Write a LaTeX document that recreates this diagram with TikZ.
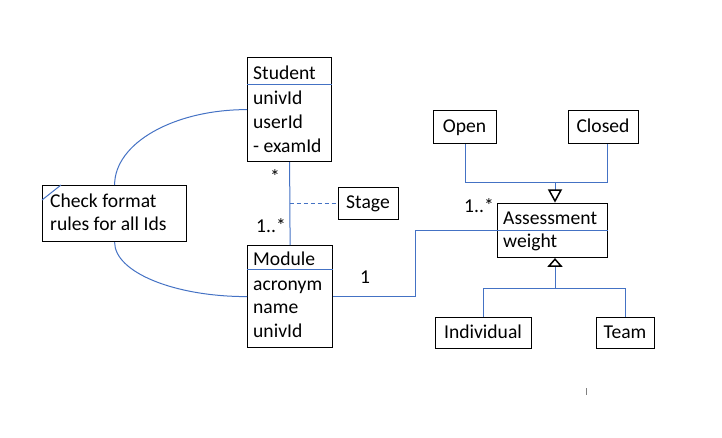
\documentclass[tikz,border=0pt]{standalone}
\usepackage{fontspec}
\setmainfont{Carlito}
\usetikzlibrary{calc}
\definecolor{lnblue}{RGB}{68,114,196}
\tikzset{
  box/.style={draw=black, line width=1.2pt, inner sep=0pt, anchor=north west},
  txt/.style={inner sep=0pt, anchor=base west, font=\fontsize{19.6}{23}\selectfont},
  ctxt/.style={inner sep=0pt, anchor=base, font=\fontsize{19.6}{23}\selectfont},
  conn/.style={draw=lnblue, line width=1pt},
  tri/.style={draw=black, line width=1.5pt, fill=white, line join=miter},
}
\begin{document}
\begin{tikzpicture}[x=1pt,y=-1pt]
\useasboundingbox (0,0) rectangle (722,437);
% Student
\node[box, minimum width=84pt, minimum height=104pt] (student) at (247,57) {};
\draw[conn] (student.north west |- 0,84) -- (student.north east |- 0,84);
\node[txt] (st1) at (253,79) {Student};
\node[txt] (st2) at (253,104) {univId};
\node[txt] (st3) at (253,128) {userId};
\node[txt] (st4) at (253,152) {- examId};
% Module
\node[box, minimum width=85pt, minimum height=102pt] (module) at (247,245) {};
\draw[conn] (module.north west |- 0,269) -- (module.north east |- 0,269);
\node[txt] (mo1) at (253,265) {Module};
\node[txt] (mo2) at (253,290) {acronym};
\node[txt] (mo3) at (253,313) {name};
\node[txt] (mo4) at (253,337) {univId};
% Check
\node[box, minimum width=144pt, minimum height=56pt] (check) at (42,185) {};
\node[txt] (ch1) at (50,207) {Check format};
\node[txt] (ch2) at (50,230) {rules for all Ids};
% Stage
\node[box, minimum width=60pt, minimum height=32pt] (stage) at (338,187) {};
\node[ctxt] (stt) at (368,208) {Stage};
% Open, Closed
\node[box, minimum width=63pt, minimum height=33pt] (open) at (433,110) {};
\node[ctxt] (opt) at (464.5,132) {Open};
\node[box, minimum width=70pt, minimum height=33pt] (closed) at (568,110) {};
\node[ctxt] (clt) at (603,132) {Closed};
% Assessment
\node[box, minimum width=110pt, minimum height=54pt] (assess) at (497,203) {};
\node[txt] (as1) at (503,224) {Assessment};
\node[txt] (as2) at (503,247) {weight};
% Individual, Team
\node[box, minimum width=96pt, minimum height=31pt] (indiv) at (435,317) {};
\node[ctxt] (int) at (483,338) {Individual};
\node[box, minimum width=58pt, minimum height=31pt] (team) at (596,317) {};
\node[ctxt] (tet) at (625,338) {Team};

% Student--Module association
\draw[conn] (student.south) -- (module.north);
\coordinate (stagejoin) at (stage.west -| student.south);
\draw[conn, dashed, dash pattern=on 4pt off 3pt] (stagejoin) -- (stage.west);
\node[ctxt] (m1) at (275,183) {*};
\node[txt] (m2) at (256,232) {1..*};

% curves to check
\draw[conn] (check.north) .. controls ($(check.north)+(0,-42)$) and ($(student.west)+(-73,0)$) .. (student.west);
\draw[conn] (check.south) .. controls ($(check.south)+(0,30)$) and ($(module.west)+(-73,0)$) .. (module.west);
\draw[conn] ($(check.north west)+(0,15)$) -- ($(check.north west)+(19,0)$);

% Module--Assessment
\coordinate (mabend) at ($(module.east)+(82,0)$);
\draw[conn] (module.east) -- (mabend) |- (assess.west) -- (assess.east);
\node[txt] (m3) at (360,283) {1};
\node[txt] (m4) at (464,212) {1..*};

% generalization Open/Closed
\coordinate (gtop) at (555,182);
\coordinate (gtri1) at (555,190);
\draw[conn] (open.south) |- (gtop);
\draw[conn] (closed.south -| 607,0) |- (gtop);
\draw[conn] (gtop) -- (gtri1);
\draw[tri] (549,190) -- (561,190) -- ($(assess.north -| gtop)+(0,-2)$) -- cycle;

% generalization Individual/Team
\coordinate (gbot) at (555,288);
\draw[conn] (indiv.north) |- (gbot);
\draw[conn] (team.north) |- (gbot);
\draw[conn] (gbot) -- (555,266);
\draw[tri] (549,266) -- (561,266) -- ($(assess.south -| gbot)+(0,1)$) -- cycle;

% small grey tick
\draw[gray, line width=1pt] (586,388) -- (586,395);
\end{tikzpicture}
\end{document}
